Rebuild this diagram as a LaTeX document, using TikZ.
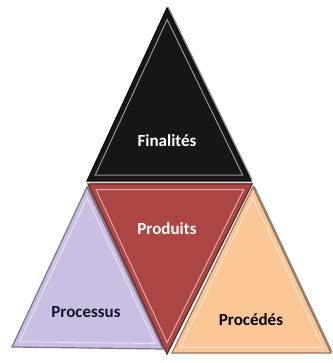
\documentclass[tikz,border=0pt]{standalone}
\usepackage{fontspec}
\setmainfont{Carlito}
\usetikzlibrary{calc}
\definecolor{blk}{RGB}{22,22,22}
\definecolor{redf}{RGB}{172,70,68}
\definecolor{purf}{RGB}{202,190,226}
\definecolor{orgf}{RGB}{251,198,150}
\definecolor{navy}{RGB}{20,20,45}
\tikzset{
  tri/.style={draw=#1!60!black, line width=1.2pt, line join=miter},
  shade/.style={fill=black, opacity=0.45},
  bevel/.style={draw=white, opacity=0.55, line width=1pt, line join=miter},
  lbl/.style={font=\bfseries\fontsize{17}{17}\selectfont, inner sep=0pt}
}
\newcommand{\bevtri}[4]{%
  \coordinate (g) at ($1/3*(#1)+1/3*(#2)+1/3*(#3)$);
  \fill[shade] ($(#1)+(1.5,-1.5)$) -- ($(#2)+(1.5,-1.5)$) -- ($(#3)+(1.5,-1.5)$) -- cycle;
  \fill[#4, tri=#4] (#1) -- (#2) -- (#3) -- cycle;
  \draw[bevel] ($(g)!0.9!(#1)$) -- ($(g)!0.9!(#2)$) -- ($(g)!0.9!(#3)$) -- cycle;
}
\begin{document}
\begin{tikzpicture}[x=1pt,y=-1pt]
\useasboundingbox (0,0) rectangle (332,363);
% coordinates
\coordinate (A1) at (167,8);   \coordinate (B1) at (87,181);  \coordinate (C1) at (251,181);
\coordinate (P1) at (87,187);  \coordinate (P2) at (12,347);  \coordinate (P3) at (163,349);
\coordinate (O1) at (253,187); \coordinate (O2) at (172,353); \coordinate (O3) at (331,353);
\coordinate (R1) at (88,184);  \coordinate (R2) at (252,184); \coordinate (R3) at (167,354);
% triangles
\bevtri{P1}{P2}{P3}{purf}
\bevtri{O1}{O2}{O3}{orgf}
\bevtri{R1}{R2}{R3}{redf}
\bevtri{A1}{B1}{C1}{blk}
% labels
\node[lbl, text=white] (fin) at (167,141) {Finalités};
\node[lbl, text=white] (prod) at (167,229) {Produits};
\node[lbl, text=navy] (proc) at (86,312) {Processus};
\node[lbl, text=black] (pcd) at (251,320) {Procédés};
\end{tikzpicture}
\end{document}
